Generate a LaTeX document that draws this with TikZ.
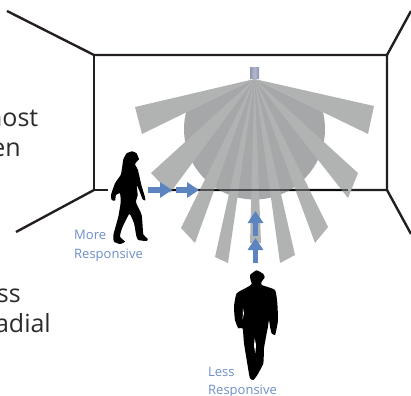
\documentclass[tikz,border=0pt]{standalone}
\usepackage{fontspec}
\setmainfont{Open Sans}
\usetikzlibrary{arrows.meta}
\definecolor{beamgrey}{HTML}{B1B3B3}
\definecolor{coregrey}{HTML}{A5A7A9}
\definecolor{wallink}{HTML}{231F20}
\definecolor{flowblue}{HTML}{5B84C0}
\definecolor{labelblue}{HTML}{6C8DC8}
\definecolor{inktext}{HTML}{2B2B2B}
\definecolor{sensorA}{HTML}{8F95B3}
\definecolor{sensorB}{HTML}{B4B8CC}
\tikzset{
  wall/.style={draw=wallink,line width=2.4pt},
  beam/.style={fill=beamgrey,draw=none},
  flow/.style={draw=flowblue,line width=5.5pt,-{Triangle[width=15pt,length=12pt]}},
  caption/.style={text=inktext,font=\fontsize{25}{30}\selectfont,anchor=base east,inner sep=0pt},
  tag/.style={text=labelblue,font=\fontsize{13}{15}\selectfont,anchor=base west,inner sep=0pt},
  figure/.style={fill=black,draw=none}
}
\begin{document}
\begin{tikzpicture}[x=1pt,y=-1pt]
\useasboundingbox (0,0) rectangle (411,395);
\clip (0,0) rectangle (411,395);
% room
\draw[wall] (7,11) -- (94,55) -- (387,55) -- (387,190);
\draw[wall] (94,55) -- (94,190) -- (108,190);
\draw[wall] (94,190) -- (16,232);
\draw[wall] (387,55) -- (411,11);
\draw[wall] (160,190) -- (387,190) -- (411,234);
% core sector
\coordinate (apex) at (254.5,79);
\begin{scope}
\clip (apex) -- (325,113) -- (325,220) -- (184,220) -- (184,113) -- cycle;
\fill[coregrey] (254.5,129) circle (70.5);
\end{scope}
% beams
\foreach \a/\b/\c/\d in {374/106/368/134, 358/173/348/198, 328/227/315/243, 295/255/280/263, 261/243/250/243, 228/263/215/257, 195/243/181/228, 170/193/151/173, 142/134/135/107}{
  \fill[beam] (apex) -- (\a,\b) -- (\c,\d) -- cycle;
}
\draw[draw=black,opacity=.55,line width=2.4pt] (160,190) -- (348,190);
% sensor
\shade[left color=sensorA,right color=sensorA,middle color=sensorB] (250,68) rectangle (259,79);
% arrows
\coordinate (h1a) at (148,190); \coordinate (h1b) at (172,190);
\coordinate (h2a) at (176,190); \coordinate (h2b) at (199,190);
\coordinate (v1a) at (255.5,263); \coordinate (v1b) at (255.5,238);
\coordinate (v2a) at (255.5,236); \coordinate (v2b) at (255.5,211);
\draw[flow] (h1a) -- (h1b);
\draw[flow] (h2a) -- (h2b);
\draw[flow] (v1a) -- (v1b);
\draw[flow] (v2a) -- (v2b);
% woman
\begin{scope}[shift={(100,140)},x=.3333pt,y=-.3333pt]
\fill[figure] plot[smooth cycle,tension=.3] coordinates {(97,34)(110,40)(114,50)(117,58)(110,65)(105,73)(113,88)(118,108)(124,135)(134,168)(136,181)(128,178)(118,152)(110,136)(113,165)(108,187)(125,225)(130,283)(143,296)(140,303)(115,300)(109,288)(102,250)(88,222)(66,265)(60,290)(75,305)(60,312)(42,305)(40,285)(55,230)(62,187)(60,160)(48,165)(45,182)(35,180)(33,165)(45,130)(62,105)(66,85)(70,58)(80,40)};
\end{scope}
% man
\begin{scope}[shift={(220,270)},x=.3333pt,y=-.3333pt]
\fill[figure] plot[smooth cycle,tension=.3] coordinates {(90,15)(110,1)(130,12)(134,22)(125,35)(125,45)(165,60)(172,100)(174,150)(170,175)(165,195)(155,190)(150,170)(147,150)(143,175)(140,190)(132,235)(130,280)(112,315)(100,330)(90,325)(85,300)(72,220)(68,175)(55,175)(45,150)(42,110)(50,70)(85,50)(95,42)(92,30)};
\fill[white] (69,115) -- (72,130) -- (68,148) -- cycle;
\fill[white] (104,205) -- (108,225) -- (106,250) -- (102,228) -- cycle;
\end{scope}
% texts
\node[caption] (capA) at (38.5,127) {most};
\node[caption] (capB) at (21,157) {en};
\node[caption] (capC) at (21,302) {ss};
\node[caption] (capD) at (51,332) {adial};
\node[tag] (moreA) at (74,239) {More};
\node[tag] (moreB) at (74,258) {Responsive};
\node[tag] (lessA) at (208,376) {Less};
\node[tag] (lessB) at (208,394) {Responsive};
\end{tikzpicture}
\end{document}
